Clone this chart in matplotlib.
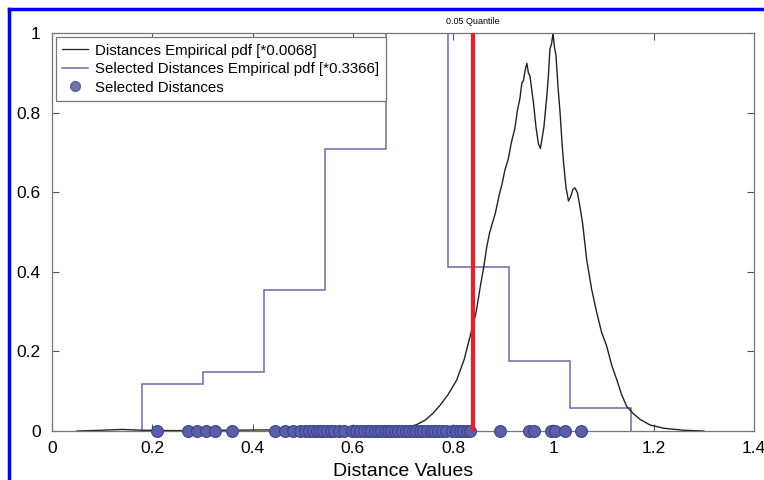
import matplotlib
matplotlib.use("Agg")
import matplotlib.pyplot as plt
from matplotlib.lines import Line2D
from matplotlib.ticker import FuncFormatter

plt.rcParams['font.family'] = ['Liberation Sans', 'DejaVu Sans']

# empirical pdf of all distances (scaled by 0.0068)
pdf_x = [0.05, 0.10, 0.14, 0.18, 0.25, 0.35, 0.45, 0.55, 0.62, 0.67, 0.694, 0.71,
         0.727, 0.745, 0.760, 0.774, 0.79, 0.807, 0.822, 0.837, 0.846, 0.854, 0.862,
         0.867, 0.873, 0.884, 0.893, 0.897, 0.903, 0.910, 0.916, 0.923, 0.928, 0.933,
         0.937, 0.940, 0.944, 0.947, 0.950, 0.953, 0.957, 0.960, 0.965, 0.970, 0.974,
         0.977, 0.981, 0.987, 0.990, 0.993, 0.996, 0.999, 1.002, 1.005, 1.009, 1.013,
         1.017, 1.020, 1.025, 1.030, 1.034, 1.039, 1.043, 1.048, 1.053, 1.058, 1.063,
         1.066, 1.076, 1.086, 1.096, 1.106, 1.116, 1.126, 1.136, 1.146, 1.159, 1.173,
         1.193, 1.22, 1.259, 1.30]
pdf_y = [0.0, 0.002, 0.004, 0.002, 0.001, 0.002, 0.003, 0.002, 0.003, 0.004, 0.006, 0.01,
         0.016, 0.028, 0.045, 0.065, 0.092, 0.128, 0.18, 0.254, 0.30, 0.362, 0.42,
         0.463, 0.50, 0.547, 0.60, 0.618, 0.655, 0.684, 0.725, 0.760, 0.805, 0.835,
         0.875, 0.880, 0.910, 0.924, 0.900, 0.893, 0.855, 0.826, 0.765, 0.722, 0.710,
         0.733, 0.765, 0.845, 0.895, 0.960, 0.972, 0.998, 0.965, 0.944, 0.866, 0.803,
         0.726, 0.676, 0.612, 0.578, 0.588, 0.608, 0.611, 0.598, 0.562, 0.523, 0.468,
         0.433, 0.357, 0.299, 0.248, 0.214, 0.166, 0.130, 0.091, 0.062, 0.044, 0.029,
         0.015, 0.007, 0.002, 0.0]

# histogram pdf of selected distances (scaled by 0.3366)
bin_edges = [0.179, 0.301, 0.423, 0.545, 0.667, 0.789, 0.911, 1.033, 1.155]
bin_heights = [0.118, 0.148, 0.354, 0.708, 1.25, 0.413, 0.177, 0.059]

selected = [0.210, 0.272, 0.289, 0.307, 0.325, 0.360, 0.444, 0.465, 0.480, 0.495,
            0.505, 0.512, 0.520, 0.528, 0.535, 0.541, 0.548, 0.556, 0.563, 0.572,
            0.583, 0.598, 0.607, 0.615, 0.622, 0.630, 0.637, 0.644, 0.650, 0.657,
            0.664, 0.670, 0.677, 0.684, 0.690, 0.697, 0.705, 0.712, 0.719, 0.726,
            0.733, 0.740, 0.748, 0.755, 0.762, 0.770, 0.778, 0.786, 0.797, 0.806,
            0.813, 0.820, 0.827, 0.834, 0.894, 0.952, 0.962, 0.995, 1.003, 1.024, 1.054]

quantile = 0.840

fig = plt.figure(figsize=(7.64, 4.8), dpi=100)
ax = fig.add_axes([0.068, 0.102, 0.919, 0.829])

ax.plot(pdf_x, pdf_y, color='#222222', lw=1.0)
ax.stairs(bin_heights, bin_edges, color='#6a6aae', lw=1.1)
ax.plot(selected, [0] * len(selected), 'o', ms=8.5, mfc='#5a60a8', mec='#3c4190',
        mew=0.8, clip_on=False, zorder=4)
ax.axvline(quantile, color='#ee1c24', lw=3, zorder=5)
ax.text(quantile, 1.018, '0.05 Quantile', ha='center', va='bottom', fontsize=6.5,
        transform=ax.get_xaxis_transform())

ax.set_xlim(0, 1.4)
ax.set_ylim(0, 1)
ax.set_xticks([0, 0.2, 0.4, 0.6, 0.8, 1.0, 1.2, 1.4])
ax.set_yticks([0, 0.2, 0.4, 0.6, 0.8, 1.0])
fmt = FuncFormatter(lambda v, p: '%g' % round(v, 2))
ax.xaxis.set_major_formatter(fmt)
ax.yaxis.set_major_formatter(fmt)
ax.tick_params(direction='in', top=True, right=True, length=5, width=0.8,
               color='#555555', labelsize=12.5)
ax.tick_params(axis='x', pad=7)
ax.tick_params(axis='y', pad=8)
for s in ax.spines.values():
    s.set_color('#777777')
    s.set_linewidth(0.9)
ax.set_xlabel('Distance Values', fontsize=14, labelpad=5)

handles = [
    Line2D([], [], color='#222222', lw=0.9),
    Line2D([], [], color='#6a6aae', lw=1.1),
    Line2D([], [], ls='none', marker='o', ms=7, mfc='#6f74aa', mec='#5a5f99'),
]
labels = ['Distances Empirical pdf [*0.0068]',
          'Selected Distances Empirical pdf [*0.3366]',
          'Selected Distances']
leg = ax.legend(handles, labels, loc='upper left', fontsize=10.8, fancybox=False,
                borderaxespad=0.25, handlelength=1.7, handletextpad=0.45,
                labelspacing=0.3, borderpad=0.45, framealpha=1)
leg.get_frame().set_edgecolor('#777777')
leg.get_frame().set_linewidth(0.9)

# blue frame at the top and left of the figure
fig.add_artist(Line2D([9 / 764, 9 / 764], [0, 1 - 9 / 480], color='#0000ff', lw=2.5))
fig.add_artist(Line2D([9 / 764, 1], [1 - 9 / 480, 1 - 9 / 480], color='#0000ff', lw=2.5))

fig.savefig('out.png', dpi=100)
